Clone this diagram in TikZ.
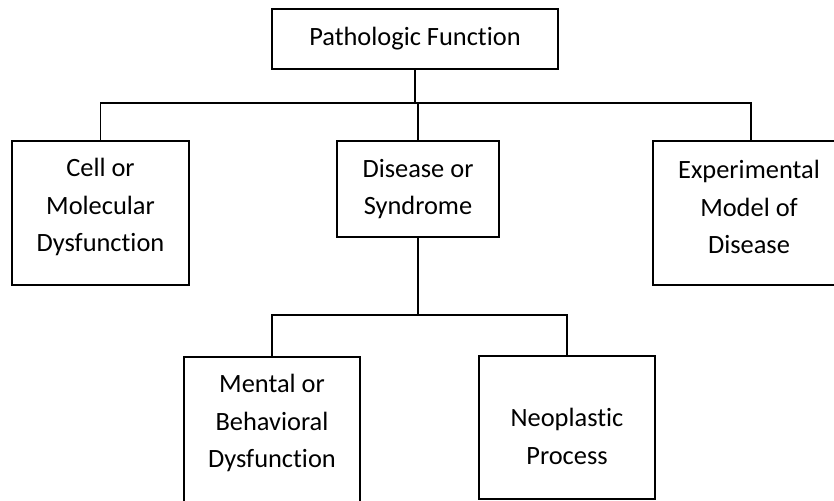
\documentclass[tikz,border=0pt]{standalone}
\usepackage{fontspec}
\setmainfont[Ligatures={NoCommon}]{Carlito}
\usetikzlibrary{calc}
\begin{document}
\begin{tikzpicture}[x=1pt,y=-1pt,
  box/.style={draw=black, line width=1.5pt, inner sep=0pt},
  txt/.style={align=center, inner sep=0pt, font=\fontsize{26.4}{37.5}\selectfont},
  link/.style={draw=black, line width=1.5pt}]
\useasboundingbox (0,0) rectangle (834,500);
\clip (0,0) rectangle (834,500);

% boxes
\node[box, txt, minimum width=286, minimum height=60] (pf) at (415,39) {Pathologic Function};
\node[box, minimum width=177, minimum height=144] (cell) at (100.5,213) {};
\node[box, txt, minimum width=162, minimum height=96] (dis) at (418,189) {Disease or\\Syndrome};
\node[box, minimum width=196, minimum height=144] (exp) at (751,213) {};
\node[box, minimum width=176, minimum height=150] (ment) at (272,432) {};
\node[box, minimum width=176, minimum height=143] (neo) at (567,427.5) {};

% box texts
\node[txt] (celltxt) at (100.5,207) {Cell or\\Molecular\\Dysfunction};
\node[txt] (exptxt) at (749,207) {Experimental\\Model of\\Disease};
\node[txt] (menttxt) at (272,423) {Mental or\\Behavioral\\Dysfunction};
\node[txt] (neotxt) at (567,436.5) {Neoplastic\\Process};

% connectors
\coordinate (bus) at (415,103);
\coordinate (bus2) at (418,315);
\draw[link] (pf.south) -- (bus);
\draw[link] (cell.north) |- (bus) -| (exp.north);
\draw[link] (dis.north) -- (dis.north |- bus);
\draw[link] (dis.south) -- (bus2);
\draw[link] (ment.north) |- (bus2) -| (neo.north);
\end{tikzpicture}
\end{document}
